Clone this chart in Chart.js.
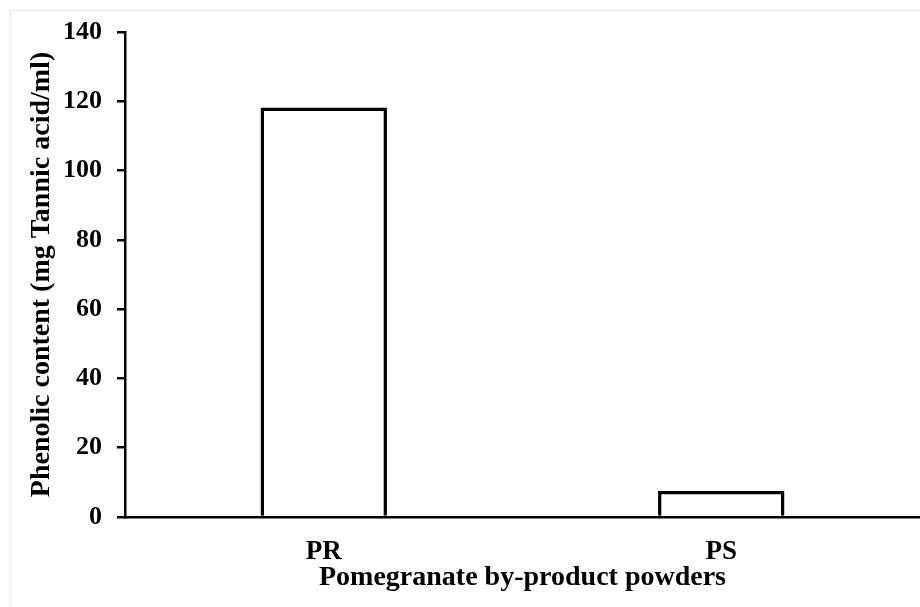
<!DOCTYPE html>
<html>
<head>
<meta charset="utf-8">
<script src="https://cdn.jsdelivr.net/npm/chart.js@4/dist/chart.umd.min.js"></script>
<style>
  html, body { margin: 0; padding: 0; background: #fff; }
  #wrap { width: 920px; height: 607px; }
</style>
</head>
<body>
<div id="wrap"><canvas id="phenolChart" width="920" height="607"></canvas></div>
<script>
// data
const categories = ['PR', 'PS'];
const phenolicValues = [118.2, 7.5];
const yTicks = [0, 20, 40, 60, 80, 100, 120, 140];

const serif = "'Liberation Serif', 'Times New Roman', serif";

// faint frame around the figure, like the source image
const framePlugin = {
  id: 'frame',
  beforeDraw(chart) {
    const c = chart.ctx;
    c.save();
    c.fillStyle = '#fff';
    c.fillRect(0, 0, chart.width, chart.height);
    c.strokeStyle = '#ececec';
    c.lineWidth = 1.5;
    c.strokeRect(10.5, 10.5, chart.width, chart.height);
    c.restore();
  }
};

const ctx = document.getElementById('phenolChart').getContext('2d');
const phenolChart = new Chart(ctx, {
  type: 'bar',
  data: {
    labels: categories,
    datasets: [{
      label: 'Phenolic content',
      data: phenolicValues,
      backgroundColor: '#ffffff',
      borderColor: '#000000',
      borderWidth: 3.5,
      borderSkipped: 'bottom',
      categoryPercentage: 1,
      barPercentage: 0.318
    }]
  },
  options: {
    responsive: false,
    animation: false,
    layout: { padding: { top: 32, right: 0, left: 0, bottom: 0 } },
    plugins: {
      legend: { display: false },
      tooltip: { enabled: false }
    },
    scales: {
      x: {
        grid: { display: false },
        border: { display: true, color: '#000', width: 2.5 },
        ticks: {
          color: '#000',
          padding: 11,
          font: { family: serif, size: 27, weight: 'bold' }
        },
        title: {
          display: true,
          text: 'Pomegranate by-product powders',
          color: '#000',
          padding: { top: 0, bottom: 12 },
          font: { family: serif, size: 28, weight: 'bold' }
        },
        afterFit(scale) { scale.height = 90; }
      },
      y: {
        min: 0,
        max: 140,
        afterBuildTicks(scale) { scale.ticks = yTicks.map(v => ({ value: v })); },
        grid: {
          drawOnChartArea: false,
          drawTicks: true,
          tickLength: 8,
          color: '#000',
          lineWidth: 2.5
        },
        border: { display: true, color: '#000', width: 2.5 },
        ticks: {
          color: '#000',
          padding: 15,
          font: { family: serif, size: 26, weight: 'bold' }
        },
        title: {
          display: true,
          text: 'Phenolic content (mg Tannic acid/ml)',
          color: '#000',
          padding: { top: 25, bottom: 0 },
          font: { family: serif, size: 28, weight: 'bold' }
        },
        afterFit(scale) { scale.width = 125; }
      }
    }
  },
  plugins: [framePlugin]
});
</script>
</body>
</html>
